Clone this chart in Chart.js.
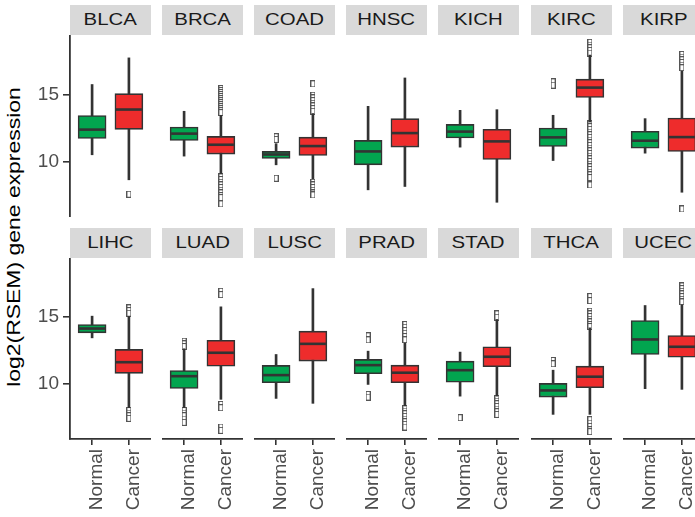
<!DOCTYPE html>
<html>
<head>
<meta charset="utf-8">
<script src="https://cdn.jsdelivr.net/npm/chart.js@4"></script>
<style>
  html, body { margin: 0; padding: 0; background: #fff; }
  body { width: 695px; height: 517px; overflow: hidden; position: relative; font-family: "Liberation Sans", Arial, sans-serif; }
  canvas.panel { position: absolute; }
  .strip { position: absolute; background: #d9d9d9; color: #1a1a1a; font-size: 17px; height: 30px; line-height: 30px; text-align: center; overflow: hidden; }
  .strip span { display: inline-block; transform: scaleX(1.2); }
  #ytitle { position: absolute; left: 14px; top: 237px; white-space: nowrap; font-size: 18.5px; color: #000;
            transform: translate(-50%, -50%) rotate(-90deg) scaleX(1.24); }
</style>
</head>
<body>
<div id="ytitle">log2(RSEM) gene expression</div>
<script>
// ---------------- data ----------------
const cancers = ['BLCA','BRCA','COAD','HNSC','KICH','KIRC','KIRP','LIHC','LUAD','LUSC','PRAD','STAD','THCA','UCEC'];
const groups = ['Normal', 'Cancer'];
const yTicks = [10, 15];

// [lower whisker, Q1, median, Q3, upper whisker]
const normalStats = [
  [10.5, 11.72, 12.38, 13.43, 15.75],
  [10.4, 11.57, 12.08, 12.57, 13.75],
  [9.75, 10.22, 10.52, 10.75, 11.33],
  [7.88, 9.75, 10.75, 11.57, 14.12],
  [11.07, 11.75, 12.23, 12.77, 13.82],
  [10.07, 11.12, 11.8, 12.5, 13.45],
  [10.62, 11.0, 11.55, 12.25, 13.2],
  [13.45, 13.83, 14.15, 14.45, 15.08],
  [8.2, 9.65, 10.57, 11.0, 12.63],
  [8.9, 10.08, 10.65, 11.38, 12.2],
  [9.95, 10.75, 11.4, 11.83, 12.45],
  [9.07, 10.12, 11.02, 11.7, 12.38],
  [7.7, 9.0, 9.5, 10.03, 11.02],
  [9.63, 12.2, 13.33, 14.75, 15.88]
];
const cancerStats = [
  [8.63, 12.4, 13.88, 15.07, 17.74],
  [9.08, 10.55, 11.25, 11.87, 13.45],
  [8.7, 10.45, 11.15, 11.82, 13.58],
  [8.13, 11.07, 12.12, 13.2, 16.24],
  [6.95, 10.15, 11.5, 12.4, 13.87],
  [12.95, 14.78, 15.52, 16.15, 17.95],
  [7.7, 10.75, 11.82, 13.25, 16.77],
  [8.2, 10.78, 11.62, 12.58, 15.05],
  [8.83, 11.32, 12.33, 13.27, 15.78],
  [8.53, 11.7, 13.0, 13.95, 17.15],
  [8.33, 10.08, 10.83, 11.4, 13.08],
  [9.07, 11.28, 12.03, 12.78, 14.83],
  [7.7, 9.7, 10.53, 11.32, 14.2],
  [9.58, 12.0, 12.78, 13.63, 15.95]
];
const normalOutliers = [
  [], [], [11.85, 11.65, 8.75], [], [], [15.95, 15.7], [],
  [], [13.2, 13.0, 12.8, 8.0, 7.8, 7.6, 7.35, 7.1], [], [13.6, 13.3, 9.2, 9.0], [7.45], [11.75, 11.5], []
];
const cancerOutliers = [
  [7.55],
  [15.45, 15.3, 15.15, 15.0, 14.85, 14.7, 14.55, 14.4, 14.25, 14.1, 13.95, 13.8, 13.65,
   8.85, 8.65, 8.45, 8.25, 8.05, 7.85, 7.65, 7.45, 7.3, 6.83],
  [15.8, 14.95, 14.75, 14.55, 14.35, 14.15, 13.95, 13.75, 8.45, 8.25, 8.05, 7.85, 7.65, 7.5],
  [],
  [],
  [18.9, 18.7, 18.5, 18.3, 18.1, 12.8, 12.6, 12.4, 12.2, 12.0, 11.8, 11.6, 11.4, 11.2, 11.0, 10.8,
   10.6, 10.4, 10.2, 10.0, 9.8, 9.6, 9.4, 9.2, 9.0, 8.8, 8.25],
  [18.0, 17.8, 17.6, 17.4, 17.2, 17.0, 6.45],
  [15.7, 15.5, 15.3, 8.0, 7.8, 7.6, 7.4],
  [16.95, 16.7, 8.45, 8.2, 6.75, 6.5],
  [],
  [14.45, 14.25, 14.0, 13.8, 13.55, 13.3, 8.15, 7.95, 7.75, 7.55, 7.35, 7.15, 6.95, 6.75],
  [15.25, 15.0, 8.9, 8.7, 8.5, 8.3, 8.1, 7.9, 7.7],
  [16.55, 16.25, 15.45, 15.25, 15.05, 14.85, 14.65, 14.45, 14.3, 7.3, 7.05, 6.8, 6.55, 6.4],
  [17.35, 17.15, 16.95, 16.75, 16.55, 16.35, 16.15]
];

// ---------------- styling / layout ----------------
const Y_MIN = 5.85, Y_MAX = 19.45;
const colNormal = '#02a54f', colCancer = '#ee2c2c', dark = '#333333';
const panelLefts = [70, 162, 254, 346, 438, 531, 623];
const PANEL_W = 81;
const rowTop = [35, 258], rowPlotH = [182, 181];
const stripTop = [5, 228];
const Y_AXIS_W = 40, X_AXIS_H = 78;
const tickFont = { family: "'Liberation Sans', Arial, sans-serif", size: 19 };

// hollow outlier marker
const outlierImg = document.createElement('canvas');
outlierImg.width = 5; outlierImg.height = 7;
(function () {
  const g = outlierImg.getContext('2d');
  g.fillStyle = '#fff'; g.fillRect(0, 0, 5, 7);
  g.strokeStyle = '#555'; g.lineWidth = 1; g.strokeRect(0.5, 0.5, 4, 6);
})();

cancers.forEach((name, i) => {
  const row = Math.floor(i / 7), col = i % 7;
  const showX = row === 1, showY = col === 0;
  // strip
  const s = document.createElement('div');
  s.className = 'strip';
  s.style.left = panelLefts[col] + 'px';
  s.style.top = stripTop[row] + 'px';
  s.style.width = PANEL_W + 'px';
  s.innerHTML = '<span>' + name + '</span>';
  document.body.appendChild(s);

  // canvas
  const cv = document.createElement('canvas');
  cv.className = 'panel';
  const leftExtra = showY ? Y_AXIS_W : 0;
  const bottomExtra = showX ? X_AXIS_H : 0;
  const w = PANEL_W + leftExtra, h = rowPlotH[row] + bottomExtra;
  cv.width = w; cv.height = h;
  cv.style.left = (panelLefts[col] - leftExtra) + 'px';
  cv.style.top = rowTop[row] + 'px';
  cv.style.width = w + 'px'; cv.style.height = h + 'px';
  document.body.appendChild(cv);

  const stats = [normalStats[i], cancerStats[i]];
  const outs = [normalOutliers[i], cancerOutliers[i]];
  const whiskers = stats.map((st, k) => ({ x: k + 1, y: [st[0], st[4]] }));
  const boxes = stats.map((st, k) => ({ x: k + 1, y: [st[1], st[3]] }));
  const medians = stats.map((st, k) => ({ x: k + 1, y: st[2] }));
  const outliers = [];
  outs.forEach((arr, k) => arr.forEach(v => outliers.push({ x: k + 1, y: v })));

  new Chart(cv.getContext('2d'), {
    type: 'bar',
    data: {
      datasets: [
        { type: 'scatter', data: medians, pointStyle: 'line', radius: 13, hoverRadius: 13,
          borderColor: dark, borderWidth: 2.6, order: 0 },
        { type: 'bar', data: boxes, backgroundColor: [colNormal, colCancer], borderColor: dark,
          borderWidth: 1.6, borderSkipped: false, barThickness: 28, grouped: false, order: 1 },
        { type: 'bar', data: whiskers, backgroundColor: dark, borderWidth: 0,
          barThickness: 2, grouped: false, order: 2 },
        { type: 'scatter', data: outliers, pointStyle: outlierImg, order: 3 }
      ]
    },
    options: {
      responsive: false, maintainAspectRatio: false, animation: false, devicePixelRatio: 1,
      layout: { padding: 0, autoPadding: false },
      plugins: { legend: { display: false }, tooltip: { enabled: false }, title: { display: false } },
      scales: {
        x: {
          type: 'linear', min: 0.4, max: 2.6, offset: false, display: showX,
          afterBuildTicks: sc => { sc.ticks = [1, 2].map(v => ({ value: v })); },
          afterFit: sc => { if (showX) { sc.height = X_AXIS_H; } sc.paddingLeft = 0; sc.paddingRight = 0; },
          ticks: { autoSkip: false, minRotation: 90, maxRotation: 90, padding: 4, labelOffset: 5,
                   color: '#4d4d4d', font: tickFont, callback: (v, idx) => groups[idx] },
          grid: { offset: false, drawOnChartArea: false, drawTicks: true, tickLength: 6, color: dark, lineWidth: 1.6 },
          border: { display: true, color: dark, width: 1.8 }
        },
        y: {
          type: 'linear', min: Y_MIN, max: Y_MAX, display: showY,
          afterBuildTicks: sc => { sc.ticks = yTicks.map(v => ({ value: v })); },
          afterFit: sc => { if (showY) { sc.width = Y_AXIS_W; } sc.paddingTop = 0; sc.paddingBottom = 0; },
          ticks: { color: '#4d4d4d', font: tickFont, padding: 4 },
          grid: { drawOnChartArea: false, drawTicks: true, tickLength: 7, color: dark, lineWidth: 1.6 },
          border: { display: true, color: dark, width: 1.8 }
        }
      }
    }
  });
});
</script>
</body>
</html>
